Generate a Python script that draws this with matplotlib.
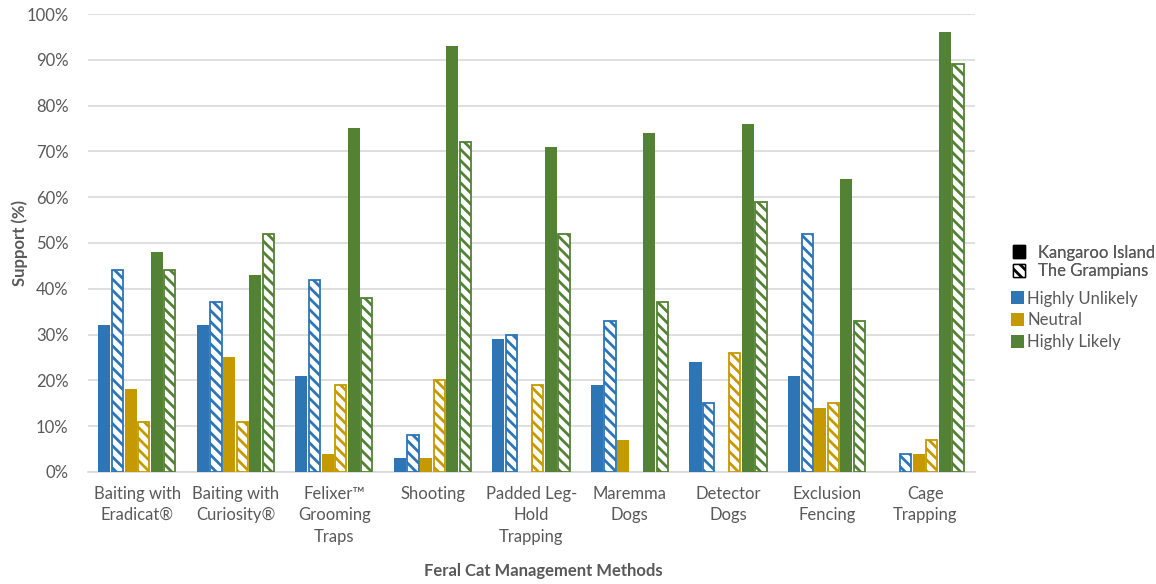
import numpy as np
import matplotlib
matplotlib.use("Agg")
import matplotlib.pyplot as plt
from matplotlib.patches import Patch

plt.rcParams['font.family'] = ['Lato', 'DejaVu Sans']
plt.rcParams['hatch.linewidth'] = 2.0

categories = ["Baiting with\nEradicat®", "Baiting with\nCuriosity®", "Felixer™\nGrooming\nTraps",
              "Shooting", "Padded Leg-\nHold\nTrapping", "Maremma\nDogs", "Detector\nDogs",
              "Exclusion\nFencing", "Cage\nTrapping"]

ki_unlikely = [32, 32, 21, 3, 29, 19, 24, 21, 0]
gr_unlikely = [44, 37, 42, 8, 30, 33, 15, 52, 4]
ki_neutral = [18, 25, 4, 3, 0, 7, 0, 14, 4]
gr_neutral = [11, 11, 19, 20, 19, 0, 26, 15, 7]
ki_likely = [48, 43, 75, 93, 71, 74, 76, 64, 96]
gr_likely = [44, 52, 38, 72, 52, 37, 59, 33, 89]

yticks = [0, 10, 20, 30, 40, 50, 60, 70, 80, 90, 100]

BLUE = "#2E75B6"
GOLD = "#C59A00"
GREEN = "#548235"
TEXT = "#595959"
GRID = "#D9D9D9"

fig = plt.figure(figsize=(11.56, 5.84), dpi=100)
ax = fig.add_axes([0.076, 0.192, 0.767, 0.784])

x = np.arange(len(categories))
slot = 0.133
width = 0.113
series = [
    (ki_unlikely, BLUE, False),
    (gr_unlikely, BLUE, True),
    (ki_neutral, GOLD, False),
    (gr_neutral, GOLD, True),
    (ki_likely, GREEN, False),
    (gr_likely, GREEN, True),
]
for i, (vals, col, hatched) in enumerate(series):
    pos = x + (i - 2.5) * slot
    vals = np.asarray(vals, dtype=float)
    if hatched:
        lw = np.where(vals > 0, 1.3, 0.0)
        ax.bar(pos, vals, width=width, facecolor="white", edgecolor=col,
               hatch="\\\\\\", linewidth=lw, zorder=3)
    else:
        ax.bar(pos, vals, width=width + 0.01, color=col, linewidth=0, zorder=3)

ax.set_xlim(-0.5, len(categories) - 0.5)
ax.set_ylim(0, 100)
ax.set_yticks(yticks)
ax.set_yticklabels([f"{v}%" for v in yticks])
ax.set_xticks(x)
ax.set_xticklabels(categories, linespacing=1.42)
ax.tick_params(axis="both", length=0, labelsize=12, colors=TEXT)
ax.tick_params(axis="x", pad=10)
ax.tick_params(axis="y", pad=14)
ax.yaxis.grid(True, color=GRID, linewidth=1.2, zorder=0)
ax.set_axisbelow(True)
for s in ["top", "right", "left"]:
    ax.spines[s].set_visible(False)
ax.spines["bottom"].set_color(GRID)
ax.spines["bottom"].set_linewidth(1.2)

ax.set_ylabel("Support (%)", fontsize=12, fontweight="bold", color=TEXT)
ax.yaxis.set_label_coords(-0.068, 0.5)
fig.text(0.470, 0.022, "Feral Cat Management Methods", fontsize=12, fontweight="bold",
         color=TEXT, ha="center", va="center")

site_handles = [
    Patch(facecolor="black", edgecolor="black", label="Kangaroo Island"),
    Patch(facecolor="white", edgecolor="black", hatch="\\\\\\", label="The Grampians"),
]
resp_handles = [
    Patch(facecolor=BLUE, label="Highly Unlikely"),
    Patch(facecolor=GOLD, label="Neutral"),
    Patch(facecolor=GREEN, label="Highly Likely"),
]
leg1 = fig.legend(handles=site_handles, loc="upper left", bbox_to_anchor=(0.863, 0.607),
                  frameon=False, fontsize=12, handlelength=0.75, handleheight=0.8,
                  handletextpad=0.75, labelspacing=0.15, labelcolor=TEXT)
fig.add_artist(leg1)
fig.legend(handles=resp_handles, loc="upper left", bbox_to_anchor=(0.862, 0.528),
           frameon=False, fontsize=12, handlelength=0.75, handleheight=0.8,
           handletextpad=0.2, labelspacing=0.35, labelcolor=TEXT)

fig.savefig("out.png", dpi=100, facecolor="white")
